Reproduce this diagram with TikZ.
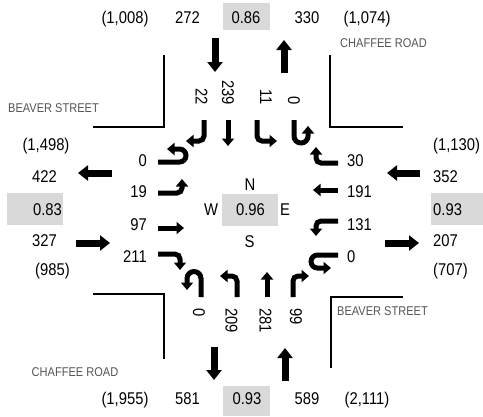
\documentclass[tikz,border=0pt]{standalone}
\usepackage{fontspec}
\setmainfont{Liberation Sans}[FakeStretch=0.87]
\usetikzlibrary{arrows.meta}
\definecolor{boxgray}{RGB}{217,217,217}
\definecolor{streetgray}{RGB}{85,85,85}
\begin{document}
\begin{tikzpicture}[x=1bp,y=-1bp,
  lbl/.style={inner sep=0pt, anchor=base, font=\fontsize{17bp}{20bp}\selectfont},
  street/.style={inner sep=0pt, anchor=base, font=\fontsize{12.7bp}{15bp}\selectfont, text=streetgray},
  rlbl/.style={inner sep=0pt, font=\fontsize{17bp}{20bp}\selectfont, rotate=-90},
  bigarrow/.style={line width=7bp, -{Triangle[width=15bp,length=10bp]}},
  lanearrow/.style={line width=5bp, -{Triangle[width=12bp,length=7.5bp]}},
  turn/.style={lanearrow, rounded corners=5bp},
  curb/.style={line width=2bp}
]
\useasboundingbox (0,0) rectangle (483,416);

% grey boxes
\fill[boxgray] (223,3) rectangle (270,30);
\fill[boxgray] (223,386) rectangle (270,416);
\fill[boxgray] (7,193) rectangle (63,225);
\fill[boxgray] (431,193) rectangle (483,225);
\fill[boxgray] (222,194) rectangle (278,226);

% curb lines
\draw[curb] (164,55) -- (164,127) -- (93,127);
\draw[curb] (330,55) -- (330,127) -- (403,127);
\draw[curb] (93,294) -- (164,294) -- (164,359);
\draw[curb] (331,368) -- (331,296.5) -- (403,296.5);

% street names
\node[street] (chaffeeN) at (383.5,47) {CHAFFEE ROAD};
\node[street] (beaverW) at (53.5,112) {BEAVER STREET};
\node[street] (beaverE) at (382.5,315) {BEAVER STREET};
\node[street] (chaffeeS) at (75,376) {CHAFFEE ROAD};

% top row
\node[lbl] (t1) at (125,23.5) {(1,008)};
\node[lbl] (t2) at (187.5,23.5) {272};
\node[lbl] (t3) at (246,23.5) {0.86};
\node[lbl] (t4) at (307,23.5) {330};
\node[lbl] (t5) at (367,23.5) {(1,074)};

% bottom row
\node[lbl] (b1) at (125,404) {(1,955)};
\node[lbl] (b2) at (187.5,404) {581};
\node[lbl] (b3) at (247,404) {0.93};
\node[lbl] (b4) at (307,404) {589};
\node[lbl] (b5) at (367,404) {(2,111)};

% left column
\node[lbl] (l1) at (46,150) {(1,498)};
\node[lbl] (l2) at (44.5,182) {422};
\node[lbl] (l3) at (47.5,215) {0.83};
\node[lbl] (l4) at (44.5,246) {327};
\node[lbl] (l5) at (52.5,275) {(985)};

% right column
\node[lbl, anchor=base west] (r1) at (433,150) {(1,130)};
\node[lbl, anchor=base west] (r2) at (433,182) {352};
\node[lbl, anchor=base west] (r3) at (433,215) {0.93};
\node[lbl, anchor=base west] (r4) at (433,246.5) {207};
\node[lbl, anchor=base west] (r5) at (433,275) {(707)};

% centre
\node[lbl] (cN) at (250,190) {N};
\node[lbl] (cW) at (211,215) {W};
\node[lbl] (cV) at (250.5,215) {0.96};
\node[lbl] (cE) at (285,215) {E};
\node[lbl] (cS) at (249.5,247) {S};

% west approach volumes
\node[lbl, anchor=base east] (w1) at (147,166.5) {0};
\node[lbl, anchor=base east] (w2) at (147,197.5) {19};
\node[lbl, anchor=base east] (w3) at (147,230) {97};
\node[lbl, anchor=base east] (w4) at (147,262.5) {211};

% east approach volumes
\node[lbl, anchor=base west] (e1) at (347,166.5) {30};
\node[lbl, anchor=base west] (e2) at (347,197.5) {191};
\node[lbl, anchor=base west] (e3) at (347,230) {131};
\node[lbl, anchor=base west] (e4) at (347,262) {0};

% north approach volumes
\node[rlbl, anchor=east] (n1) at (201.5,105) {22};
\node[rlbl, anchor=east] (n2) at (228,105) {239};
\node[rlbl, anchor=east] (n3) at (266,105) {11};
\node[rlbl, anchor=east] (n4) at (294,105) {0};

% south approach volumes
\node[rlbl, anchor=west] (s1) at (199,308) {0};
\node[rlbl, anchor=west] (s2) at (231.5,308) {209};
\node[rlbl, anchor=west] (s3) at (265.5,308) {281};
\node[rlbl, anchor=west] (s4) at (296,308) {99};

% big approach / departure arrows
\draw[bigarrow] (215,38) -- (215,72);
\draw[bigarrow] (284,73) -- (284,40);
\draw[bigarrow] (214,347) -- (214,380);
\draw[bigarrow] (285,381) -- (285,348);
\draw[bigarrow] (112,173) -- (78,173);
\draw[bigarrow] (76,243) -- (110,243);
\draw[bigarrow] (420,173) -- (387,173);
\draw[bigarrow] (385,243) -- (419,243);

% north (southbound) lane arrows
\draw[turn] (204,120) -- (204,141) -- (186,141);
\draw[lanearrow] (228,120) -- (228,146);
\draw[turn] (257,120) -- (257,141) -- (277,141);
\draw[lanearrow, rounded corners=7bp] (294,120) -- (294,143) -- (308,143) -- (308,126);

% west (eastbound) lane arrows
\draw[lanearrow, rounded corners=6.5bp] (158,162) -- (186,162) -- (186,149) -- (167,149);
\draw[turn] (158,193) -- (182,193) -- (182,179);
\draw[lanearrow] (158,228) -- (184,228);
\draw[turn] (158,254) -- (180,254) -- (180,270);

% east (westbound) lane arrows
\draw[turn] (338,163) -- (316,163) -- (316,147);
\draw[lanearrow] (338,190) -- (313,190);
\draw[turn] (338,221) -- (316,221) -- (316,236);
\draw[lanearrow, rounded corners=6.5bp] (338,255) -- (311,255) -- (311,268) -- (331,268);

% south (northbound) lane arrows
\draw[lanearrow, rounded corners=7bp] (201,297) -- (201,271.5) -- (187,271.5) -- (187,290);
\draw[turn] (237,297) -- (237,276) -- (220,276);
\draw[lanearrow] (267,297) -- (267,272);
\draw[turn] (293,297) -- (293,276) -- (309,276);

\end{tikzpicture}
\end{document}
